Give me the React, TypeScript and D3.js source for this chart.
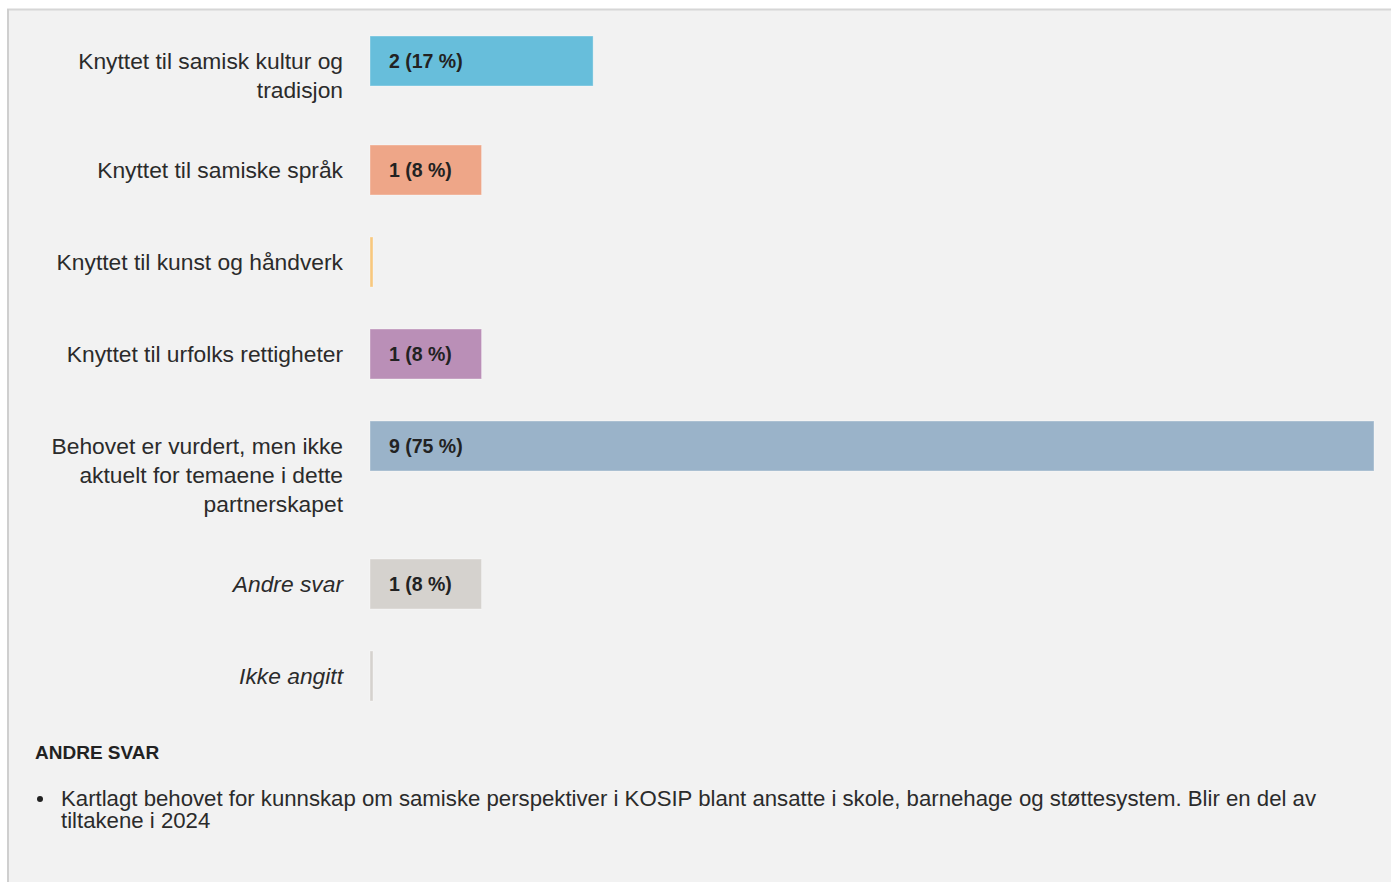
import * as d3 from 'd3';

// Survey answers (one row per option)
const categories = [
  'Knyttet til samisk kultur og\ntradisjon',
  'Knyttet til samiske språk',
  'Knyttet til kunst og håndverk',
  'Knyttet til urfolks rettigheter',
  'Behovet er vurdert, men ikke\naktuelt for temaene i dette\npartnerskapet',
  'Andre svar',
  'Ikke angitt',
];
const counts = [2, 1, 0, 1, 9, 1, 0];
const percents = [17, 8, 0, 8, 75, 8, 0];
const italicRows = ['Andre svar', 'Ikke angitt'];
const barColours = ['#67bedb', '#eea688', '#f7c87f', '#ba8fb7', '#9ab3c9', '#d5d2ce', '#d5d2ce'];

const otherTitle = 'ANDRE SVAR';
const otherAnswers = [
  'Kartlagt behovet for kunnskap om samiske perspektiver i KOSIP blant ansatte i skole, barnehage og støttesystem. Blir en del av\ntiltakene i 2024',
];

const W = 1391;
const H = 882;
const FONT = "'Liberation Sans', Arial, sans-serif";

export default function App() {
  const x = d3.scaleLinear()
    .domain([0, d3.max(counts) as number])
    .range([370, 1374]);

  const barH = 50;
  const lineH = 29;

  // rows stack down; multi-line labels push the next row further
  let top = 36;
  const rows = categories.map((c, i) => {
    const lines = c.split('\n');
    const row = { lines, top, i };
    top += lines.length === 1 ? 92 : lines.length * lineH + 51;
    return row;
  });

  const otherTop = rows[rows.length - 1].top + barH + 51;

  return (
    <svg
      width={W}
      height={H}
      style={{ position: 'absolute', left: 0, top: 0, display: 'block' }}
      fontFamily={FONT}
    >
      <rect x={0} y={0} width={W} height={H} fill="#ffffff" />
      <rect x={8} y={10} width={W - 8} height={H - 10} fill="#f2f2f2" />
      <line x1={7} x2={W} y1={9.5} y2={9.5} stroke="#d6d6d6" strokeWidth={2} />
      <line x1={8} x2={8} y1={9} y2={H} stroke="#cfcfcf" strokeWidth={2} />

      {rows.map(r => {
        const v = counts[r.i];
        const w = Math.max(x(v) - x(0), 3);
        const cy = r.top + barH / 2;
        const italic = italicRows.includes(categories[r.i]);
        return (
          <g key={r.i}>
            {r.lines.map((l, j) => (
              <text
                key={j}
                x={343}
                y={cy + j * lineH}
                textAnchor="end"
                dominantBaseline="central"
                fontSize={22.8}
                fontStyle={italic ? 'italic' : 'normal'}
                fill="#2b2b2b"
              >
                {l}
              </text>
            ))}
            <rect
              x={x(0)}
              y={r.top}
              width={w}
              height={barH}
              fill={barColours[r.i]}
              stroke="#ffffff"
              strokeOpacity={0.35}
              strokeWidth={1}
            />
            {v > 0 && (
              <text
                x={x(0) + 19}
                y={cy}
                dominantBaseline="central"
                fontSize={19.5}
                fontWeight="bold"
                fill="#222"
              >
                {`${v} (${percents[r.i]} %)`}
              </text>
            )}
          </g>
        );
      })}

      <text
        x={35}
        y={otherTop}
        dominantBaseline="central"
        fontSize={19}
        fontWeight="bold"
        fill="#222"
      >
        {otherTitle}
      </text>
      {otherAnswers.map((a, i) => (
        <g key={i}>
          <circle cx={40} cy={otherTop + 47} r={3} fill="#222" />
          {a.split('\n').map((l, j) => (
            <text
              key={j}
              x={61}
              y={otherTop + 46 + j * 22}
              dominantBaseline="central"
              fontSize={22.2}
              fill="#2b2b2b"
            >
              {l}
            </text>
          ))}
        </g>
      ))}
    </svg>
  );
}
